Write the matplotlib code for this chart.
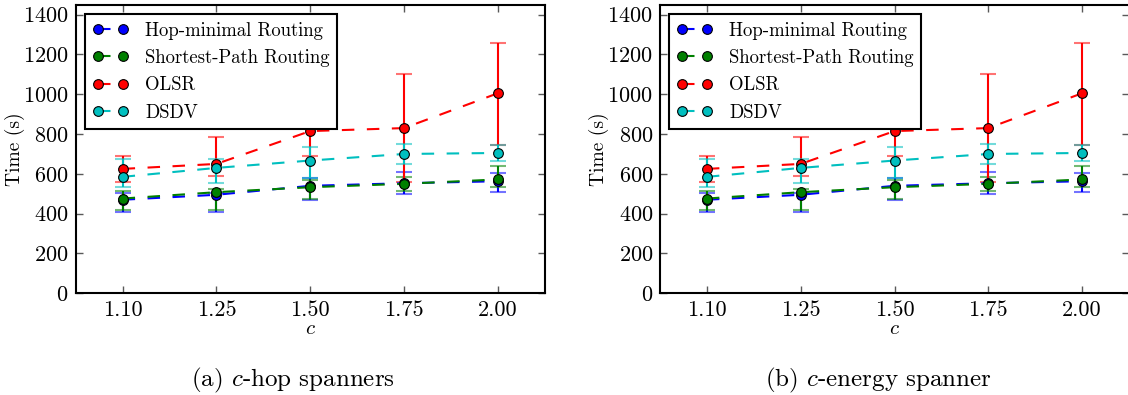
import numpy as np
import matplotlib
matplotlib.use("Agg")
import matplotlib.pyplot as plt

plt.rcParams['font.family'] = 'serif'
plt.rcParams['font.serif'] = ['cmr10', 'DejaVu Serif']
plt.rcParams['mathtext.fontset'] = 'cm'
plt.rcParams['axes.formatter.use_mathtext'] = True

# data (same for both panels)
c_labels = ['1.10', '1.25', '1.50', '1.75', '2.00']
names = ['Hop-minimal Routing', 'Shortest-Path Routing', 'OLSR', 'DSDV']
colors = ['b', 'g', 'r', 'c']

hop_mean = [470, 495, 540, 553, 563]
hop_lo = [62, 88, 72, 55, 53]
hop_hi = [32, 10, 37, 55, 40]

sp_mean = [476, 508, 533, 550, 572]
sp_lo = [57, 90, 60, 35, 40]
sp_hi = [40, 15, 35, 35, 67]

olsr_mean = [625, 650, 815, 830, 1005]
olsr_lo = [65, 60, 123, 270, 262]
olsr_hi = [67, 135, 125, 272, 253]

dsdv_mean = [585, 630, 667, 700, 705]
dsdv_lo = [50, 77, 90, 50, 42]
dsdv_hi = [90, 47, 67, 50, 42]

means = [hop_mean, sp_mean, olsr_mean, dsdv_mean]
lows = [hop_lo, sp_lo, olsr_lo, dsdv_lo]
highs = [hop_hi, sp_hi, olsr_hi, dsdv_hi]

fig = plt.figure(figsize=(11.28, 3.95), dpi=100)
x = np.arange(len(c_labels))


def panel(rect):
    ax = fig.add_axes(rect)
    for m, lo, hi, col, nm in zip(means, lows, highs, colors, names):
        eb = ax.errorbar(x, m, yerr=[lo, hi], fmt='none', ecolor=col,
                         elinewidth=1.5, capsize=6, capthick=1.5, zorder=2)
        for cap in eb[1]:
            cap.set_alpha(0.55)
        ax.plot(x, m, '--o', color=col, lw=1.5, dashes=(6, 6),
                markersize=7, markeredgecolor='k', markeredgewidth=0.8,
                label=nm, zorder=3)
    ax.set_xlim(-0.5, 4.5)
    ax.set_ylim(0, 1450)
    ax.set_yticks(range(0, 1401, 200))
    ax.set_xticks(x)
    ax.set_xticklabels(c_labels)
    ax.tick_params(direction='in', top=True, right=True, length=5,
                   width=1, color='0.35', labelsize=16, pad=5)
    for s in ax.spines.values():
        s.set_linewidth(1.5)
    ax.set_ylabel('Time (s)', fontsize=14)
    ax.yaxis.set_label_coords(-0.108, 0.5)
    ax.set_xlabel('$c$', fontsize=15, labelpad=0)
    leg = ax.legend(loc='upper left', numpoints=2, fontsize=13.5,
                    fancybox=False, handlelength=1.9, labelspacing=0.5,
                    borderaxespad=0.5, handletextpad=0.9, framealpha=1)
    leg.get_frame().set_edgecolor('k')
    leg.get_frame().set_linewidth(1.5)
    return ax


panel([0.0671, 0.2575, 0.4158, 0.7306])
panel([0.5851, 0.2575, 0.4158, 0.7306])

fig.text(293 / 1128, 1 - 380 / 395, '(a) $c$-hop spanners', fontsize=18,
         ha='center', va='center')
fig.text(878 / 1128, 1 - 380 / 395, '(b) $c$-energy spanner', fontsize=18,
         ha='center', va='center')

plt.savefig('out.png', dpi=100)
